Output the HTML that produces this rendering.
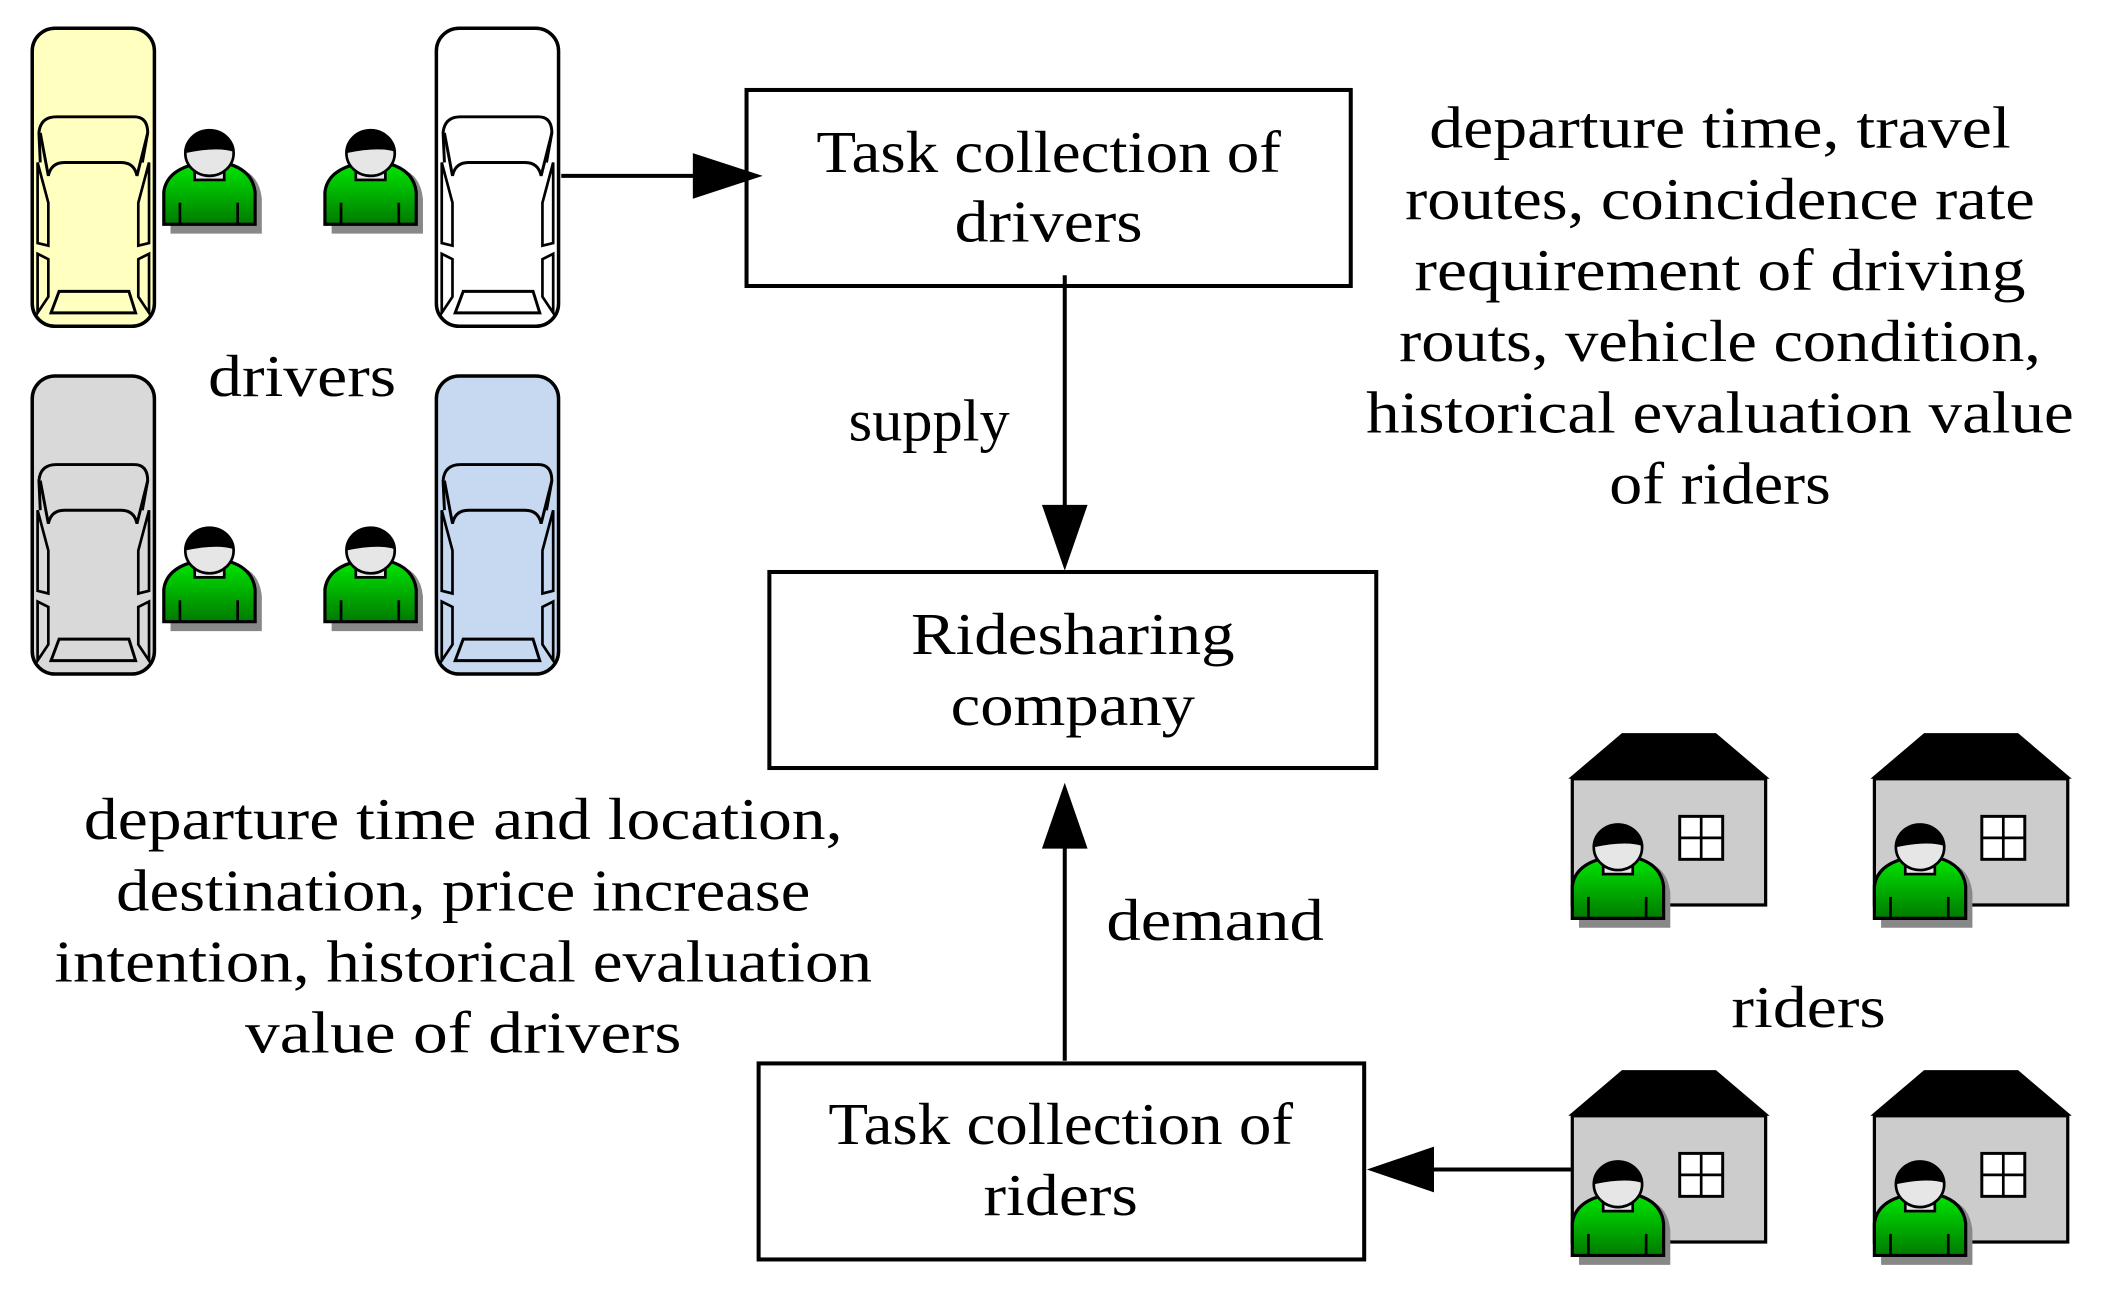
<!DOCTYPE html>
<html><head><meta charset="utf-8"><style>
html,body{margin:0;padding:0;background:#fff;}
svg{display:block;}
text{font-family:"Liberation Serif",serif;font-size:44px;fill:#000;}
</style></head><body>
<svg width="2104" height="1289" viewBox="0 0 1567 960" preserveAspectRatio="none" xmlns="http://www.w3.org/2000/svg">
<defs>
<linearGradient id="g" x1="0" y1="0" x2="0" y2="1"><stop offset="0" stop-color="#00e600"/><stop offset="1" stop-color="#007a00"/></linearGradient>
<g id="car">
<rect x="0" y="0" width="91" height="222" rx="17" ry="17" stroke="#000" stroke-width="2.6"/>
<path d="M6 100 L5 78 Q6 66 18 66 L76 66 Q86 66 86 78 L82 100" fill="none" stroke="#000" stroke-width="2.2"/>
<path d="M6 78 L12 110 Q14 100 24 100 L66 100 Q76 100 78 110 L86 78" fill="none" stroke="#000" stroke-width="2.2"/>
<path d="M4 130 L4 100 L12 130 L12 162 L4 160 Z M87 130 L87 100 L79 130 L79 162 L87 160 Z" fill="none" stroke="#000" stroke-width="2"/>
<path d="M4 168 L12 172 L12 200 L4 212 Z M87 168 L79 172 L79 200 L87 212 Z" fill="none" stroke="#000" stroke-width="2"/>
<path d="M20 196 L72 196 L77 212 L14 212 Z" fill="none" stroke="#000" stroke-width="2.2"/>
</g>
<g id="person">
<path d="M4 70 L4 44 Q6 26 28 22 L56 22 Q70 26 72 44 L72 70 Z" fill="#888" transform="translate(3,3)"/>
<path d="M2 66 L2 42 Q4 26 26 21 L50 21 Q68 26 70 42 L70 66 Z" fill="url(#g)" stroke="#000" stroke-width="2.4"/>
<line x1="14" y1="50" x2="14" y2="66" stroke="#000" stroke-width="2"/>
<line x1="57" y1="50" x2="57" y2="66" stroke="#000" stroke-width="2"/>
<rect x="25" y="13" width="22" height="20" fill="#e6e6e6" stroke="#000" stroke-width="2"/>
<ellipse cx="36" cy="13" rx="18" ry="17" fill="#e6e6e6" stroke="#000" stroke-width="2"/>
<path d="M18 12 Q19 -4 36 -4 Q53 -4 54 12 Q42 8 18 13 Z" fill="#000"/>
</g>
<g id="house">
<polygon points="0,34 40,0 110,0 150,34" fill="#000"/>
<rect x="3" y="34" width="144" height="94" fill="#ccc" stroke="#000" stroke-width="2.4"/>
<rect x="83" y="62" width="32" height="32" fill="#fff" stroke="#000" stroke-width="2.2"/>
<line x1="99" y1="62" x2="99" y2="94" stroke="#000" stroke-width="2"/>
<line x1="83" y1="78" x2="115" y2="78" stroke="#000" stroke-width="2"/>
<g transform="translate(1,72)"><use href="#person"/></g>
</g>
</defs>

<use href="#car" x="24" y="21" fill="#ffffbf"/>
<use href="#car" x="325" y="21" fill="#fff"/>
<use href="#car" x="24" y="280" fill="#d9d9d9"/>
<use href="#car" x="325" y="280" fill="#c6d9f0"/>
<use href="#person" x="120" y="101"/>
<use href="#person" x="240" y="101"/>
<use href="#person" x="120" y="397"/>
<use href="#person" x="240" y="397"/>

<use href="#house" x="1168" y="546"/>
<use href="#house" x="1393" y="546"/>
<use href="#house" x="1168" y="797"/>
<use href="#house" x="1393" y="797"/>

<rect x="556" y="67" width="450" height="146" fill="none" stroke="#000" stroke-width="3"/>
<rect x="573" y="426" width="452" height="146" fill="none" stroke="#000" stroke-width="3"/>
<rect x="565" y="792" width="451" height="146" fill="none" stroke="#000" stroke-width="3"/>

<line x1="418" y1="131" x2="520" y2="131" stroke="#000" stroke-width="3"/>
<polygon points="516,114 568,131 516,148" fill="#000"/>
<line x1="793" y1="205" x2="793" y2="380" stroke="#000" stroke-width="3"/>
<polygon points="776,376 793,425 810,376" fill="#000"/>
<line x1="793" y1="790" x2="793" y2="628" stroke="#000" stroke-width="3"/>
<polygon points="776,632 793,583 810,632" fill="#000"/>
<line x1="1170" y1="871" x2="1064" y2="871" stroke="#000" stroke-width="3"/>
<polygon points="1068,854 1018,871 1068,888" fill="#000"/>

<g text-anchor="middle">
<text x="781" y="128" textLength="346" lengthAdjust="spacingAndGlyphs">Task collection of</text>
<text x="781" y="180" textLength="140" lengthAdjust="spacingAndGlyphs">drivers</text>
<text x="799" y="487" textLength="241" lengthAdjust="spacingAndGlyphs">Ridesharing</text>
<text x="799" y="540" textLength="182" lengthAdjust="spacingAndGlyphs">company</text>
<text x="790" y="852" textLength="346" lengthAdjust="spacingAndGlyphs">Task collection of</text>
<text x="790" y="905" textLength="115" lengthAdjust="spacingAndGlyphs">riders</text>

<text x="225" y="295" textLength="140" lengthAdjust="spacingAndGlyphs">drivers</text>
<text x="692" y="328" font-size="40" textLength="120" lengthAdjust="spacingAndGlyphs">supply</text>
<text x="905" y="700" textLength="162" lengthAdjust="spacingAndGlyphs">demand</text>
<text x="1347" y="765" textLength="115" lengthAdjust="spacingAndGlyphs">riders</text>

<text x="1281" y="110" textLength="433" lengthAdjust="spacingAndGlyphs">departure time, travel</text>
<text x="1281" y="163" textLength="469" lengthAdjust="spacingAndGlyphs">routes, coincidence rate</text>
<text x="1281" y="216" textLength="455" lengthAdjust="spacingAndGlyphs">requirement of driving</text>
<text x="1281" y="269" textLength="478" lengthAdjust="spacingAndGlyphs">routs, vehicle condition,</text>
<text x="1281" y="322" textLength="527" lengthAdjust="spacingAndGlyphs">historical evaluation value</text>
<text x="1281" y="375" textLength="165" lengthAdjust="spacingAndGlyphs">of riders</text>

<text x="345" y="625" textLength="565" lengthAdjust="spacingAndGlyphs">departure time and location,</text>
<text x="345" y="678" textLength="517" lengthAdjust="spacingAndGlyphs">destination, price increase</text>
<text x="345" y="731" textLength="609" lengthAdjust="spacingAndGlyphs">intention, historical evaluation</text>
<text x="345" y="784" textLength="325" lengthAdjust="spacingAndGlyphs">value of  drivers</text>
</g>
</svg>
</body></html>
